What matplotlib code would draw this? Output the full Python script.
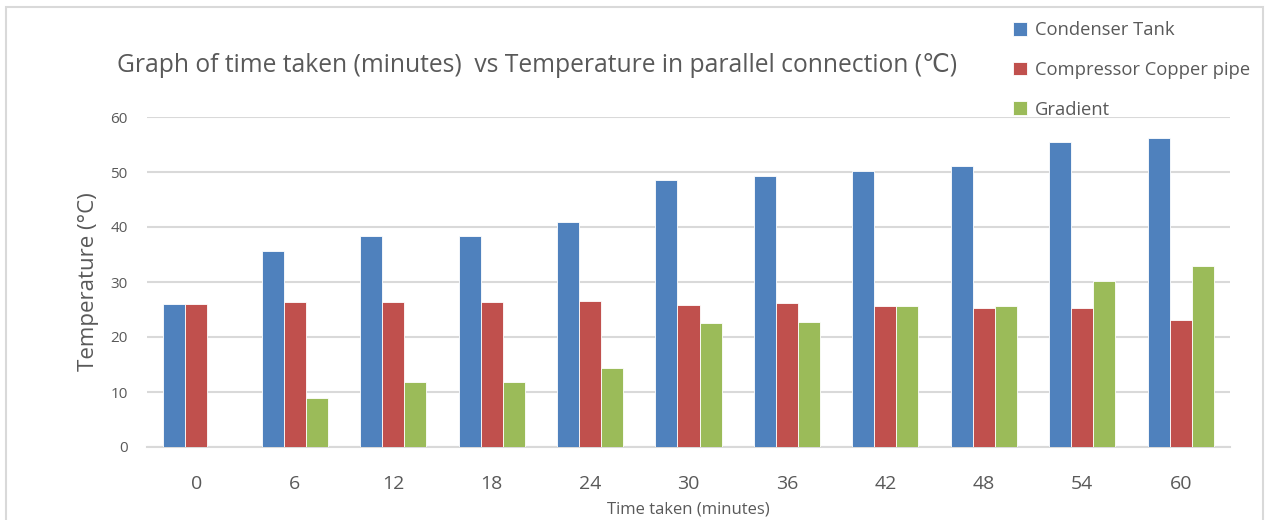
import numpy as np
import matplotlib
matplotlib.use("Agg")
import matplotlib.pyplot as plt
from matplotlib.patches import Rectangle

times = ["0", "6", "12", "18", "24", "30", "36", "42", "48", "54", "60"]
condenser = [26.0, 35.6, 38.4, 38.4, 41.0, 48.5, 49.2, 50.1, 51.1, 55.5, 56.1]
compressor = [26.0, 26.4, 26.3, 26.3, 26.5, 25.8, 26.2, 25.7, 25.3, 25.2, 23.1]
gradient = [0.0, 9.0, 11.9, 11.9, 14.3, 22.5, 22.8, 25.7, 25.6, 30.1, 32.9]
series = ["Condenser Tank", "Compressor Copper pipe", "Gradient"]
colors = ["#4F81BD", "#C0504D", "#9BBB59"]
yticks = [0, 10, 20, 30, 40, 50, 60]

TXT = "#595959"
FONT = ["Open Sans", "DejaVu Sans"]
plt.rcParams["font.family"] = FONT

fig = plt.figure(figsize=(12.67, 5.2), dpi=100)
ax = fig.add_axes([147 / 1267, 73 / 520, 1083 / 1267, 330 / 520])

x = np.arange(len(times))
w = 0.2235
for i, (vals, c, name) in enumerate(zip([condenser, compressor, gradient], colors, series)):
    ax.bar(x + (i - 1) * w, vals, width=w, color=c, edgecolor="white",
           linewidth=0.6, label=name, zorder=3)

ax.set_xlim(-0.5, len(times) - 0.5)
ax.set_ylim(0, 60)
ax.set_yticks(yticks)
ax.set_xticks(x)
ax.set_xticklabels(times, fontsize=14, color=TXT)
ax.tick_params(axis="y", labelsize=11, labelcolor=TXT, length=0, pad=14)
ax.tick_params(axis="x", length=0, pad=20)
ax.yaxis.grid(True, color="#d9d9d9", linewidth=1.5, zorder=0)
for s in ["top", "right", "left"]:
    ax.spines[s].set_visible(False)
ax.spines["bottom"].set_color("#d9d9d9")
ax.spines["bottom"].set_linewidth(1.5)

ax.set_ylabel("Temperature (°C)", fontsize=16, color=TXT, labelpad=8)
ax.set_xlabel("Time taken (minutes)", fontsize=12, color=TXT, labelpad=6)

fig.text(537 / 1267, 1 - 66 / 520,
         "Graph of time taken (minutes)  vs Temperature in parallel connection (\u2103)",
         ha="center", va="center", fontsize=17.7, color=TXT, family=FONT)

leg = fig.legend(loc="upper left", bbox_to_anchor=(1006 / 1267, 1 - 14 / 520),
                 frameon=False, fontsize=13.2, labelcolor=TXT,
                 handlelength=0.75, handleheight=0.75, handletextpad=0.45,
                 labelspacing=1.18, borderaxespad=0)

# light frame round the whole chart
fig.patches.append(Rectangle((6 / 1267, -0.01), 1257 / 1267, 1 - 7 / 520 + 0.01,
                             transform=fig.transFigure, fill=False,
                             edgecolor="#d9d9d9", linewidth=1.5))

fig.savefig("out.png", dpi=100)
